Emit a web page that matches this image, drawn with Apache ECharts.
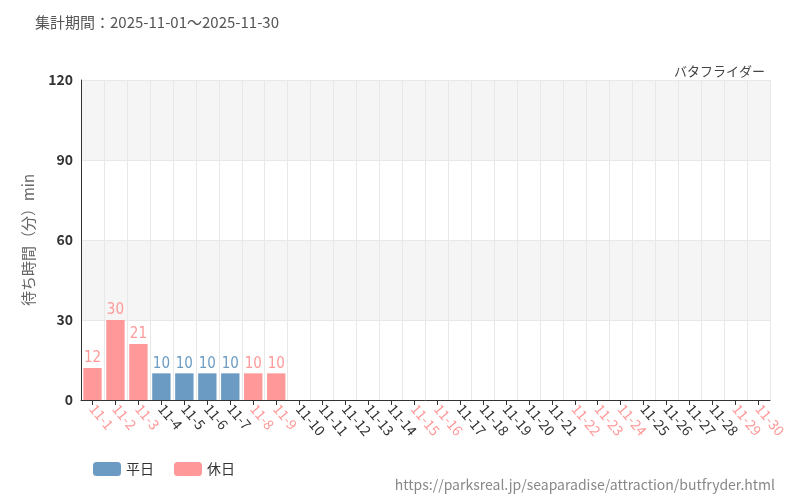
<!DOCTYPE html>
<html><head><meta charset="utf-8">
<script src="https://cdn.jsdelivr.net/npm/echarts@6/dist/echarts.min.js"></script>
<style>html,body{margin:0;padding:0;background:#fff}#main{width:800px;height:500px}</style>
</head><body><div id="main"></div>
<script>
// カテゴリ（日付）
var days=['11-1','11-2','11-3','11-4','11-5','11-6','11-7','11-8','11-9','11-10','11-11','11-12','11-13','11-14','11-15','11-16','11-17','11-18','11-19','11-20','11-21','11-22','11-23','11-24','11-25','11-26','11-27','11-28','11-29','11-30'];
// 休日
var holidays=['11-1','11-2','11-3','11-8','11-9','11-15','11-16','11-22','11-23','11-24','11-29','11-30'];
// 待ち時間（分）
var waits=[12,30,21,10,10,10,10,10,10,null,null,null,null,null,null,null,null,null,null,null,null,null,null,null,null,null,null,null,null,null];

var cWeek='#6b9bc3',cHoli='#ff9999';
var font='"Noto Sans CJK JP","Noto Sans",sans-serif';

var weekData=[],holiData=[];
days.forEach(function(d,i){
  var h=holidays.indexOf(d)>=0;
  weekData.push(h?null:waits[i]);
  holiData.push(h?waits[i]:null);
});

var myChart=echarts.init(document.getElementById('main'));
var lbl=function(c){return {show:true,position:'top',color:c,fontSize:15,fontFamily:'"DejaVu Sans Condensed",sans-serif',distance:2};};
myChart.setOption({
  animation:false,
  textStyle:{fontFamily:font},
  title:[
    {text:'集計期間：2025-11-01～2025-11-30',left:30,top:10,textStyle:{fontSize:15,fontWeight:'normal',color:'#555'}},
    {text:'バタフライダー',right:30,top:60,textStyle:{fontSize:13,fontWeight:'normal',color:'#444'}},
    {text:'https://parksreal.jp/seaparadise/attraction/butfryder.html',right:20,top:473,textStyle:{fontSize:14,fontWeight:'normal',color:'#888'}}
  ],
  legend:{left:88,top:457,itemWidth:28,itemHeight:14,itemGap:20,textStyle:{fontSize:14,color:'#333'},data:['平日','休日']},
  grid:{left:81,right:30,top:80,bottom:100},
  xAxis:{type:'category',data:days,
    axisLine:{lineStyle:{color:'#333'}},axisTick:{show:true,alignWithLabel:true,lineStyle:{color:'#333'}},
    splitLine:{show:true,lineStyle:{color:'#e8e8e8'}},
    axisLabel:{interval:0,rotate:-50,fontSize:14,margin:6,
      color:function(v){return holidays.indexOf(v)>=0?cHoli:'#333';}}},
  yAxis:{type:'value',min:0,max:120,interval:30,name:'待ち時間（分）min',nameLocation:'middle',nameGap:45,
    nameTextStyle:{fontSize:15,color:'#666'},
    axisLine:{show:true,lineStyle:{color:'#333'}},axisTick:{show:false},
    axisLabel:{fontSize:14,color:'#333',fontWeight:'bold'},
    splitLine:{lineStyle:{color:'#e8e8e8'}},
    splitArea:{show:true,areaStyle:{color:['#fff','#f5f5f5']}}},
  series:[
    {name:'平日',type:'bar',stack:'a',barWidth:'80%',data:weekData,itemStyle:{color:cWeek},label:lbl(cWeek)},
    {name:'休日',type:'bar',stack:'a',barWidth:'80%',data:holiData,itemStyle:{color:cHoli},label:lbl(cHoli)}
  ]
});
</script></body></html>
